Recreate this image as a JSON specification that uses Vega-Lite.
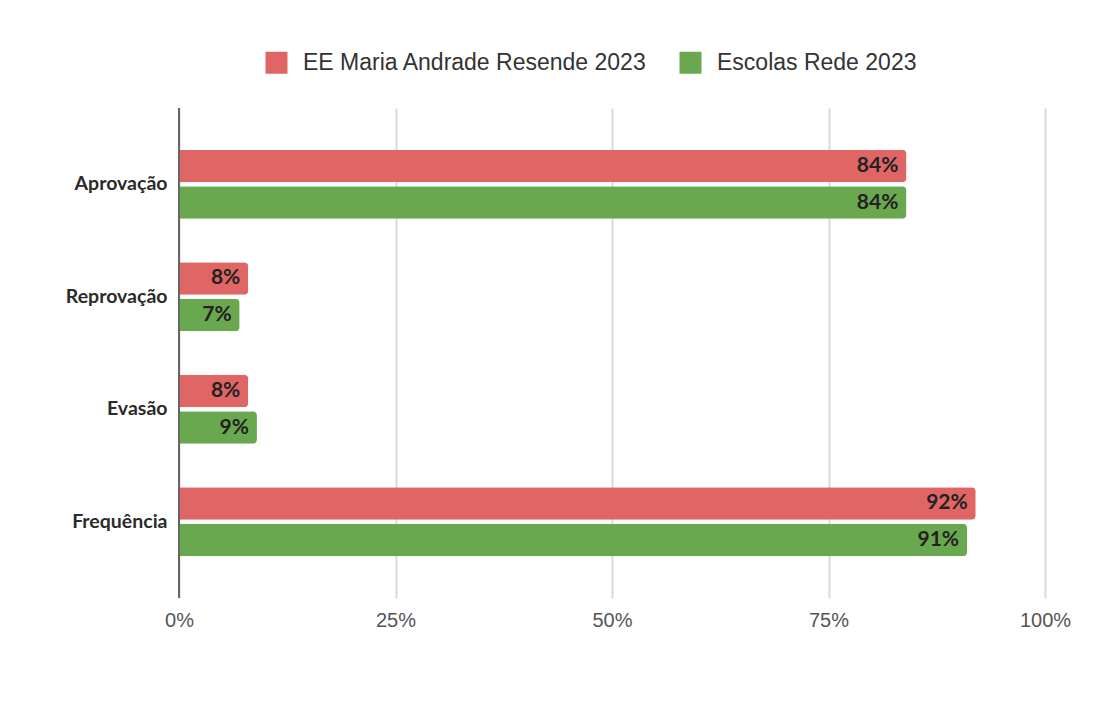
{
  "$schema": "https://vega.github.io/schema/vega-lite/v6.json",
  "width": 866,
  "height": 490,
  "autosize": {"type": "none"},
  "padding": {"left": 179, "top": 108, "right": 64, "bottom": 106},
  "background": "#ffffff",
  "config": {"view": {"stroke": null}},
  "data": {
    "values": [
      {"cat": "Aprovação", "serie": "EE Maria Andrade Resende 2023", "v": 0.84},
      {"cat": "Aprovação", "serie": "Escolas Rede 2023", "v": 0.84},
      {"cat": "Reprovação", "serie": "EE Maria Andrade Resende 2023", "v": 0.08},
      {"cat": "Reprovação", "serie": "Escolas Rede 2023", "v": 0.07},
      {"cat": "Evasão", "serie": "EE Maria Andrade Resende 2023", "v": 0.08},
      {"cat": "Evasão", "serie": "Escolas Rede 2023", "v": 0.09},
      {"cat": "Frequência", "serie": "EE Maria Andrade Resende 2023", "v": 0.92},
      {"cat": "Frequência", "serie": "Escolas Rede 2023", "v": 0.91}
    ]
  },
  "encoding": {
    "y": {
      "field": "cat", "type": "nominal", "sort": ["Aprovação", "Reprovação", "Evasão", "Frequência"],
      "scale": {"paddingInner": 0.385, "paddingOuter": 0.37},
      "axis": {"title": null, "ticks": false, "domain": false, "labelPadding": 12, "labelFont": "Lato", "labelFontSize": 19.5, "labelFontWeight": "bold", "labelColor": "#2b2b2b"}
    },
    "yOffset": {"field": "serie", "type": "nominal", "scale": {"paddingInner": 0.11, "paddingOuter": 0}},
    "x": {
      "field": "v", "type": "quantitative",
      "scale": {"domain": [0, 1]},
      "axis": {"title": null, "format": "~%", "values": [0, 0.25, 0.5, 0.75, 1], "ticks": false, "domain": false, "labelFlush": false, "labelPadding": 12, "labelFont": "Liberation Sans", "labelFontSize": 20, "labelColor": "#555555", "gridColor": "#d9d9d9", "gridWidth": 2}
    }
  },
  "layer": [
    {
      "mark": {"type": "bar", "cornerRadiusEnd": 4},
      "encoding": {
        "color": {
          "field": "serie", "type": "nominal",
          "scale": {"domain": ["EE Maria Andrade Resende 2023", "Escolas Rede 2023"], "range": ["#e06666", "#6aa84f"]},
          "legend": {"title": null, "orient": "none", "legendX": 86, "legendY": -57, "direction": "horizontal", "symbolType": "square", "symbolSize": 484, "symbolStrokeWidth": 0, "labelFont": "Liberation Sans", "labelFontSize": 23, "labelColor": "#333333", "labelOffset": 15, "labelLimit": 0, "columnPadding": 32, "symbolOffset": 0}
        }
      }
    },
    {
      "mark": {"type": "rule", "color": "#666666", "strokeWidth": 2},
      "encoding": {"x": {"datum": 0}, "y": {"value": 0}, "y2": {"value": 490}, "yOffset": null}
    },
    {
      "mark": {"type": "text", "align": "right", "dx": -8, "font": "Lato", "fontSize": 21, "fontWeight": "bold", "color": "#222222"},
      "encoding": {"text": {"field": "v", "type": "quantitative", "format": ".0%"}}
    }
  ]
}
